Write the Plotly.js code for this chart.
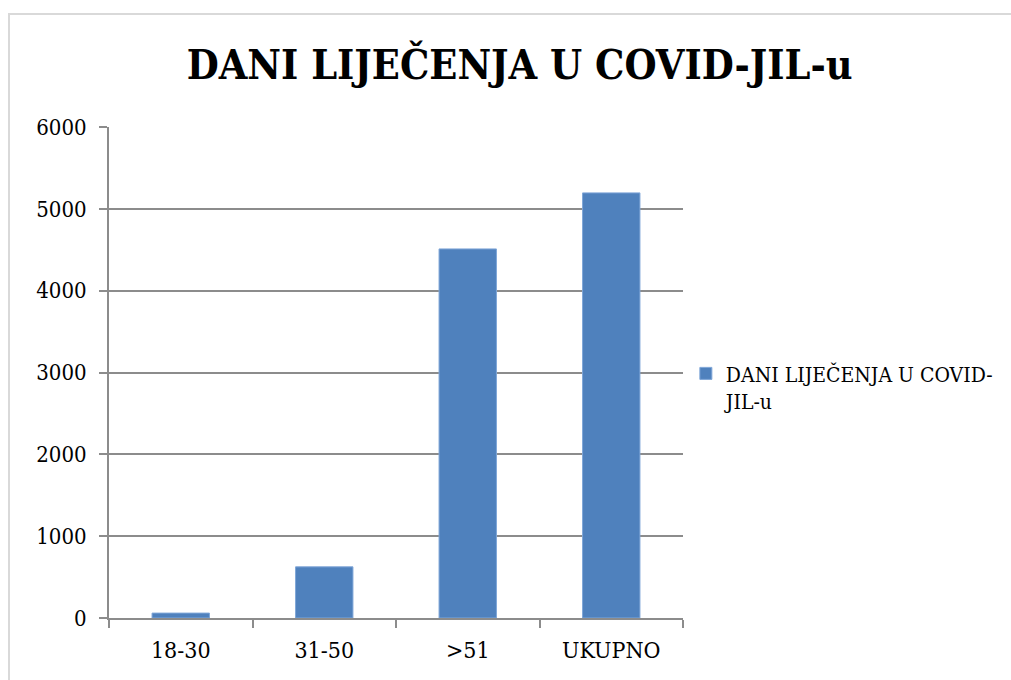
<!DOCTYPE html>
<html>
<head>
<meta charset="utf-8">
<script src="https://cdn.plot.ly/plotly-3.0.1.min.js"></script>
<style>
html,body{margin:0;padding:0;background:#fff;}
#frame{position:absolute;left:8px;top:13px;width:1100px;height:800px;border:2px solid #d9d9d9;box-sizing:border-box;}
#chart{position:absolute;left:0;top:0;width:1011px;height:680px;}
</style>
</head>
<body>
<div id="frame"></div>
<div id="chart"></div>
<script>
const categories = ["18-30", "31-50", ">51", "UKUPNO"];
const values = [60, 625, 4510, 5195];
const seriesName = "DANI LIJEČENJA U COVID-<br>JIL-u";
const chartTitle = "DANI LIJEČENJA U COVID-JIL-u";
const yTicks = [0, 1000, 2000, 3000, 4000, 5000, 6000];

const FONT = "DejaVu Serif Condensed, DejaVu Serif, serif";

const data = [{
  type: "bar",
  x: categories,
  y: values,
  name: seriesName,
  marker: {color: "#4F81BD", line: {color: "#7FA6D8", width: 1}},
  showlegend: true,
  hoverinfo: "x+y"
}];

const layout = {
  width: 1011,
  height: 680,
  paper_bgcolor: "rgba(0,0,0,0)",
  plot_bgcolor: "rgba(0,0,0,0)",
  margin: {l: 109, r: 328, t: 127, b: 62, autoexpand: false},
  font: {family: FONT, size: 22, color: "#000"},
  title: {
    text: "<b>" + chartTitle + "</b>",
    font: {family: FONT, size: 41, color: "#000"},
    x: 0.514, xref: "container", xanchor: "center",
    y: 0.905, yref: "container", yanchor: "middle"
  },
  bargap: 0.6,
  showlegend: true,
  legend: {
    x: 1.005, xanchor: "left", xref: "paper",
    y: 0.47, yanchor: "middle",
    valign: "top",
    font: {family: FONT, size: 21, color: "#000"},
    bgcolor: "rgba(0,0,0,0)",
    itemwidth: 30
  },
  xaxis: {
    type: "category",
    tickson: "boundaries",
    ticks: "outside",
    ticklen: 8,
    tickwidth: 2,
    tickcolor: "#8c8c8c",
    showline: true,
    linecolor: "#8c8c8c",
    linewidth: 2,
    showgrid: false,
    ticklabelstandoff: 10,
    tickfont: {family: FONT, size: 23, color: "#000"},
    fixedrange: true
  },
  yaxis: {
    range: [0, 6000],
    tickvals: yTicks,
    ticktext: yTicks.map(String),
    ticks: "outside",
    ticklen: 8,
    tickwidth: 2,
    tickcolor: "#8c8c8c",
    showline: true,
    linecolor: "#8c8c8c",
    linewidth: 2,
    showgrid: true,
    gridcolor: "#8c8c8c",
    gridwidth: 2,
    zeroline: false,
    ticklabelstandoff: 8,
    tickfont: {family: FONT, size: 22, color: "#000"},
    fixedrange: true
  }
};

Plotly.newPlot("chart", data, layout, {displayModeBar: false, staticPlot: true});
</script>
</body>
</html>
